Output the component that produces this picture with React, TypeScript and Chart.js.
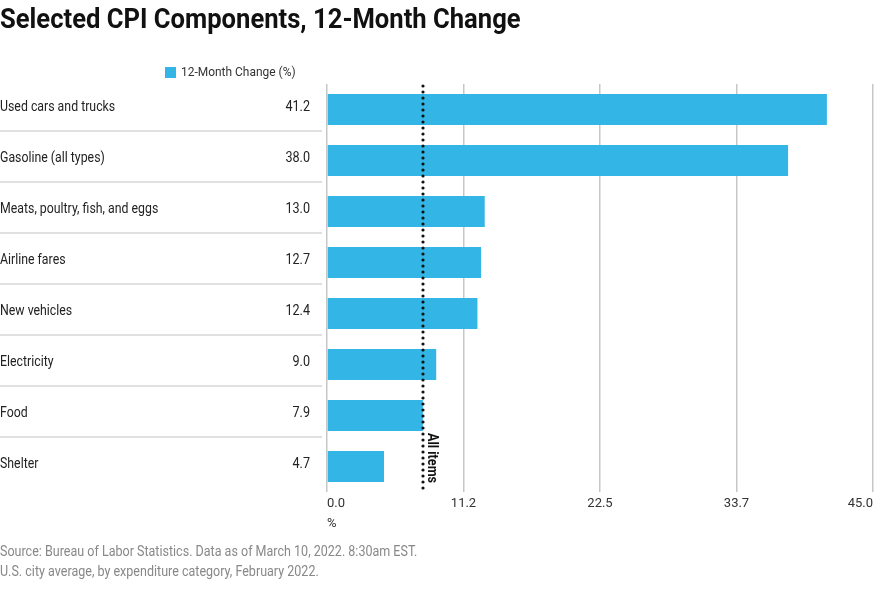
import React, { useEffect, useRef } from "react";
import { Chart, registerables } from "chart.js";

Chart.register(...registerables);

const titleText = "Selected CPI Components, 12-Month Change";
const seriesLabel = "12-Month Change (%)";
const categories = [
  "Used cars and trucks",
  "Gasoline (all types)",
  "Meats, poultry, fish, and eggs",
  "Airline fares",
  "New vehicles",
  "Electricity",
  "Food",
  "Shelter",
];
const changeValues = [41.2, 38.0, 13.0, 12.7, 12.4, 9.0, 7.9, 4.7];
const valueLabels = ["41.2", "38.0", "13.0", "12.7", "12.4", "9.0", "7.9", "4.7"];
const tickValues = [0, 11.25, 22.5, 33.75, 45];
const tickLabels = ["0.0", "11.2", "22.5", "33.7", "45.0"];
const allItemsValue = 7.9;
const allItemsLabel = "All items";
const axisUnit = "%";
const footerLines = [
  "Source: Bureau of Labor Statistics. Data as of March 10, 2022. 8:30am EST.",
  "U.S. city average, by expenditure category, February 2022.",
];

const FONT = '"Liberation Sans Narrow", "Roboto", sans-serif';
const BAR_COLOR = "#33b6e6";

function drawText(ctx: any, text: string, x: number, y: number, sx: number) {
  ctx.save();
  ctx.translate(x, y);
  ctx.scale(sx, 1);
  ctx.fillText(text, 0, 0);
  ctx.restore();
}

const overlayPlugin = {
  id: "overlay",
  beforeDatasetsDraw(chart: any) {
    const ctx = chart.ctx;
    const y = chart.scales.y;
    ctx.save();
    // title
    ctx.fillStyle = "#111";
    ctx.font = `bold 28px ${FONT}`;
    ctx.textAlign = "left";
    ctx.textBaseline = "middle";
    drawText(ctx, titleText, 0, 21, 0.914);
    // legend
    ctx.fillStyle = BAR_COLOR;
    ctx.fillRect(165, 67, 11, 11);
    ctx.fillStyle = "#333";
    ctx.font = `13px ${FONT}`;
    drawText(ctx, chart.data.datasets[0].label, 181, 73, 0.92);
    // row labels, values, separators
    for (let i = 0; i < categories.length; i++) {
      const cy = y.getPixelForValue(i);
      ctx.fillStyle = "#222";
      ctx.font = `14px ${FONT}`;
      ctx.textAlign = "left";
      drawText(ctx, categories[i], 0, cy - 2, 0.88);
      ctx.textAlign = "right";
      drawText(ctx, valueLabels[i], 310, cy - 2, 0.9);
      if (i < categories.length - 1) {
        const ny = y.getPixelForValue(i + 1);
        const sy = (cy + ny) / 2 - 4;
        ctx.strokeStyle = "#e0e0e0";
        ctx.lineWidth = 2;
        ctx.beginPath();
        ctx.moveTo(0, sy);
        ctx.lineTo(322, sy);
        ctx.stroke();
      }
    }
    // footer
    ctx.textAlign = "left";
    ctx.fillStyle = "#888";
    ctx.font = `14px ${FONT}`;
    drawText(ctx, footerLines[0], 0, 552, 0.895);
    drawText(ctx, footerLines[1], 0, 572, 0.895);
    ctx.restore();
  },
  afterDatasetsDraw(chart: any) {
    const ctx = chart.ctx;
    const x = chart.scales.x;
    const area = chart.chartArea;
    const lx = Math.round(x.getPixelForValue(allItemsValue));
    ctx.save();
    ctx.strokeStyle = "#111";
    ctx.lineWidth = 3.2;
    ctx.lineCap = "round";
    ctx.setLineDash([0, 6]);
    ctx.beginPath();
    ctx.moveTo(lx, area.top + 2);
    ctx.lineTo(lx, area.bottom - 1);
    ctx.stroke();
    ctx.setLineDash([]);
    ctx.translate(lx + 5, 433);
    ctx.rotate(Math.PI / 2);
    ctx.fillStyle = "#111";
    ctx.font = `bold 14px ${FONT}`;
    ctx.textAlign = "left";
    ctx.textBaseline = "alphabetic";
    ctx.scale(0.9, 1);
    ctx.fillText(allItemsLabel, 0, 0);
    ctx.restore();
  },
};

export default function App() {
  const ref = useRef<HTMLCanvasElement>(null);
  useEffect(() => {
    if (!ref.current) return;
    const chart = new Chart(ref.current, {
      type: "bar",
      data: {
        labels: categories,
        datasets: [
          {
            label: seriesLabel,
            data: changeValues,
            backgroundColor: BAR_COLOR,
            borderWidth: 0,
            categoryPercentage: 1,
            barPercentage: 0.61,
          },
        ],
      },
      options: {
        indexAxis: "y",
        animation: false,
        responsive: false,
        devicePixelRatio: 1,
        layout: { padding: { left: 327, right: 21, top: 84, bottom: 69 } },
        plugins: {
          legend: { display: false },
          title: { display: false },
          tooltip: { enabled: false },
        },
        scales: {
          y: { display: false },
          x: {
            min: 0,
            max: 45,
            z: 1,
            afterBuildTicks: (s: any) => {
              s.ticks = tickValues.map((v) => ({ value: v }));
            },
            afterFit: (s: any) => {
              s.height = 40;
            },
            border: { display: false },
            grid: {
              color: "rgba(0,0,0,0.22)",
              lineWidth: 1.5,
              drawTicks: false,
            },
            ticks: {
              padding: 4,
              maxRotation: 0,
              autoSkip: false,
              align: "inner",
              color: "#333",
              font: { family: FONT, size: 13 },
              callback: (_v: any, i: number) => tickLabels[i],
            },
            title: {
              display: true,
              text: axisUnit,
              align: "start",
              color: "#333",
              font: { family: FONT, size: 13 },
              padding: { top: 2, bottom: 0 },
            },
          },
        },
      },
      plugins: [overlayPlugin],
    } as any);
    return () => chart.destroy();
  }, []);
  return (
    <div style={{ position: "absolute", left: 0, top: 0, width: 894, height: 601, background: "#fff" }}>
      <canvas ref={ref} width={894} height={601} />
    </div>
  );
}
